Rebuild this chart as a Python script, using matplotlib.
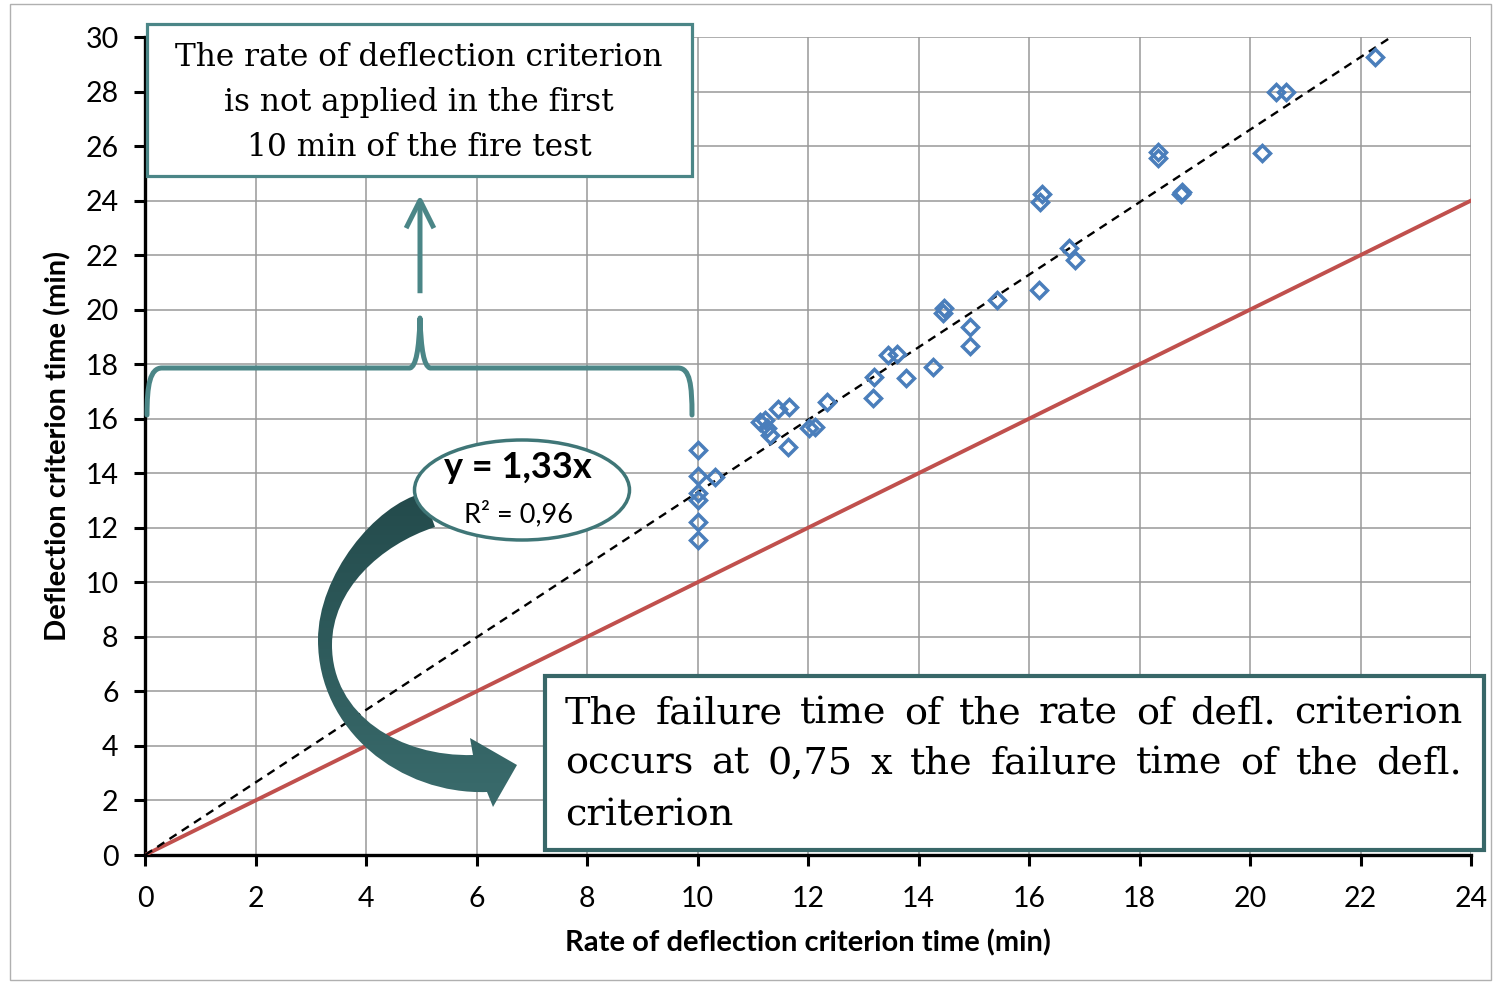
import numpy as np
import matplotlib
matplotlib.use("Agg")
import matplotlib.pyplot as plt
from matplotlib.patches import Rectangle, Ellipse, PathPatch, FancyArrowPatch
from matplotlib.path import Path
from matplotlib.colors import LinearSegmentedColormap

plt.rcParams['font.family'] = ['Lato', 'DejaVu Sans']

# measured failure times (min)
rate_time = [10.01, 10.01, 10.32, 10.01, 10.01, 10.01, 10.01,
             11.13, 11.22, 11.26, 11.31, 11.46, 11.66, 11.64, 12.01, 12.13, 12.34,
             13.20, 13.18, 13.45, 13.61, 13.77, 14.26, 14.44, 14.46, 14.93, 14.93,
             15.42, 16.18, 16.20, 16.23, 16.73, 16.83, 18.33, 18.34, 18.75, 18.77,
             20.21, 20.47, 20.66, 22.26]
defl_time = [14.85, 13.91, 13.87, 13.26, 13.02, 12.22, 11.55,
             15.89, 15.95, 15.66, 15.40, 16.35, 16.42, 14.97, 15.65, 15.68, 16.62,
             17.53, 16.76, 18.33, 18.37, 17.49, 17.89, 19.87, 20.06, 19.36, 18.66,
             20.35, 20.72, 23.96, 24.26, 22.25, 21.82, 25.79, 25.55, 24.26, 24.30,
             25.75, 27.99, 27.99, 29.27]

slope = 1.33        # trend line y = 1,33x
x_ticks = list(range(0, 25, 2))
y_ticks = list(range(0, 31, 2))

teal = '#4b8687'
dark_teal = '#386768'

fig = plt.figure(figsize=(14.93, 9.82), dpi=100)
ax = fig.add_axes([145/1493, 127/982, 1326/1493, 818/982])


def px(x, y):
    # picture pixel (from top left) -> inches for fig.dpi_scale_trans
    return (x / 100, (982 - y) / 100)


tr = fig.dpi_scale_trans

# lines and points
ax.plot([0, 24], [0, 24], color='#c0504d', lw=2.8, zorder=3)
xt = np.array([0, 30 / slope])
ax.plot(xt, slope * xt, color='black', lw=1.7, dashes=(3.6, 2.6), zorder=3)
ax.plot(rate_time, defl_time, ls='none', marker='D', ms=8, mfc='none',
        mec='#4a7ebb', mew=2.5, zorder=4)

ax.set_xlim(0, 24)
ax.set_ylim(0, 30)
ax.set_xticks(x_ticks)
ax.set_yticks(y_ticks)
ax.grid(True, color='#999999', lw=1.1)
ax.set_axisbelow(True)
for s in ['top', 'right']:
    ax.spines[s].set_visible(False)
for s in ['left', 'bottom']:
    ax.spines[s].set_linewidth(2.4)
ax.tick_params(labelsize=20.5, length=8, width=2.2, pad=11)
ax.tick_params(axis='x', pad=14)

ax.set_xlabel('Rate of deflection criterion time (min)', fontsize=21, fontweight='bold')
ax.set_ylabel('Deflection criterion time (min)', fontsize=21, fontweight='bold')
ax.xaxis.set_label_coords(0.5, -0.1076)
ax.yaxis.set_label_coords(-0.0656, 0.5)
ax.xaxis.label.set_va('center')
ax.yaxis.label.set_va('center')

# outer chart frame
fig.add_artist(Rectangle(px(10, 980), 14.81, 9.76, transform=tr, fill=False,
                         ec='#b0b0b0', lw=1))

# big curved arrow (gradient filled)
verts = [px(423, 493), px(375, 505), px(318, 575), px(318, 640),
         px(318, 730), px(400, 795), px(487, 792),
         px(493, 807), px(517, 765), px(470, 738), px(473, 755),
         px(400, 757), px(332, 715), px(332, 645),
         px(332, 590), px(380, 545), px(435, 527), px(423, 493)]
codes = [Path.MOVETO, Path.CURVE4, Path.CURVE4, Path.CURVE4,
         Path.CURVE4, Path.CURVE4, Path.CURVE4,
         Path.LINETO, Path.LINETO, Path.LINETO, Path.LINETO,
         Path.CURVE4, Path.CURVE4, Path.CURVE4,
         Path.CURVE4, Path.CURVE4, Path.CURVE4, Path.CLOSEPOLY]
arrow_patch = PathPatch(Path(verts, codes), transform=tr, fc='none', ec='none')
ax.add_artist(arrow_patch)
cmap = LinearSegmentedColormap.from_list('arr', ['#234a4b', '#3a6c6d'])
grad = np.linspace(0, 1, 256).reshape(-1, 1)
im = ax.imshow(grad, cmap=cmap, aspect='auto', origin='upper',
               extent=(3.1, 5.25, 1.7, 4.95), transform=tr, zorder=5)
im.set_clip_path(arrow_patch)
ax.set_xlim(0, 24)
ax.set_ylim(0, 30)

# ellipse with the trend line equation
fig.add_artist(Ellipse(px(522, 490), 2.15, 1.0, transform=tr, fc='white',
                       ec='#3f7677', lw=2.5))
fig.text(*px(518, 468), 'y = 1,33x', transform=tr, fontsize=26, fontweight='bold',
         ha='center', va='center')
fig.text(*px(518, 514), 'R² = 0,96', transform=tr, fontsize=19.5,
         ha='center', va='center')

# top note box
fig.add_artist(Rectangle(px(147, 176), 5.45, 1.52, transform=tr, fc='white',
                         ec=teal, lw=2.3))
top_lines = ['The rate of deflection criterion', 'is not applied in the first',
             '10 min of the fire test']
for i, line in enumerate(top_lines):
    fig.text(*px(419, 58 + i * 44.5), line, transform=tr, fontsize=22.5,
             family='DejaVu Serif', ha='center', va='center')

# brace and arrow
bverts = [px(147, 415), px(147, 385), px(150, 368), px(162, 368),
          px(410, 368),
          px(416, 366), px(419, 350), px(420, 318),
          px(421, 350), px(424, 366), px(430, 368),
          px(678, 368),
          px(690, 368), px(692, 385), px(692, 415)]
bcodes = [Path.MOVETO, Path.CURVE4, Path.CURVE4, Path.CURVE4,
          Path.LINETO,
          Path.CURVE4, Path.CURVE4, Path.CURVE4,
          Path.CURVE4, Path.CURVE4, Path.CURVE4,
          Path.LINETO,
          Path.CURVE4, Path.CURVE4, Path.CURVE4]
fig.add_artist(PathPatch(Path(bverts, bcodes), transform=tr, fc='none', ec=teal,
                         lw=3.6, capstyle='round', joinstyle='round'))
fig.add_artist(FancyArrowPatch(px(420, 296), px(420, 192), transform=tr,
                               arrowstyle='->,head_length=1.0,head_width=0.5',
                               mutation_scale=20, color=teal, lw=3.6,
                               capstyle='butt', joinstyle='round'))

# bottom note box (justified text)
fig.add_artist(Rectangle(px(545, 850), 9.39, 1.74, transform=tr, fc='white',
                         ec=dark_teal, lw=3))
renderer = fig.canvas.get_renderer()
bottom_lines = ['The failure time of the rate of defl. criterion',
                'occurs at 0,75 x the failure time of the defl.',
                'criterion']
x0, x1 = 565, 1462
for i, line in enumerate(bottom_lines):
    y = 713 + i * 51
    words = line.split(' ')
    if i == len(bottom_lines) - 1:
        fig.text(*px(x0, y), line, transform=tr, fontsize=27.5, family='DejaVu Serif',
                 ha='left', va='center')
        continue
    texts = [fig.text(0, 0, w, transform=tr, fontsize=27.5, family='DejaVu Serif',
                      ha='left', va='center') for w in words]
    widths = [t.get_window_extent(renderer).width for t in texts]
    gap = (x1 - x0 - sum(widths)) / (len(words) - 1)
    xx = x0
    for t, w in zip(texts, widths):
        t.set_position(px(xx, y))
        xx += w + gap

fig.savefig('out.png', dpi=100)
